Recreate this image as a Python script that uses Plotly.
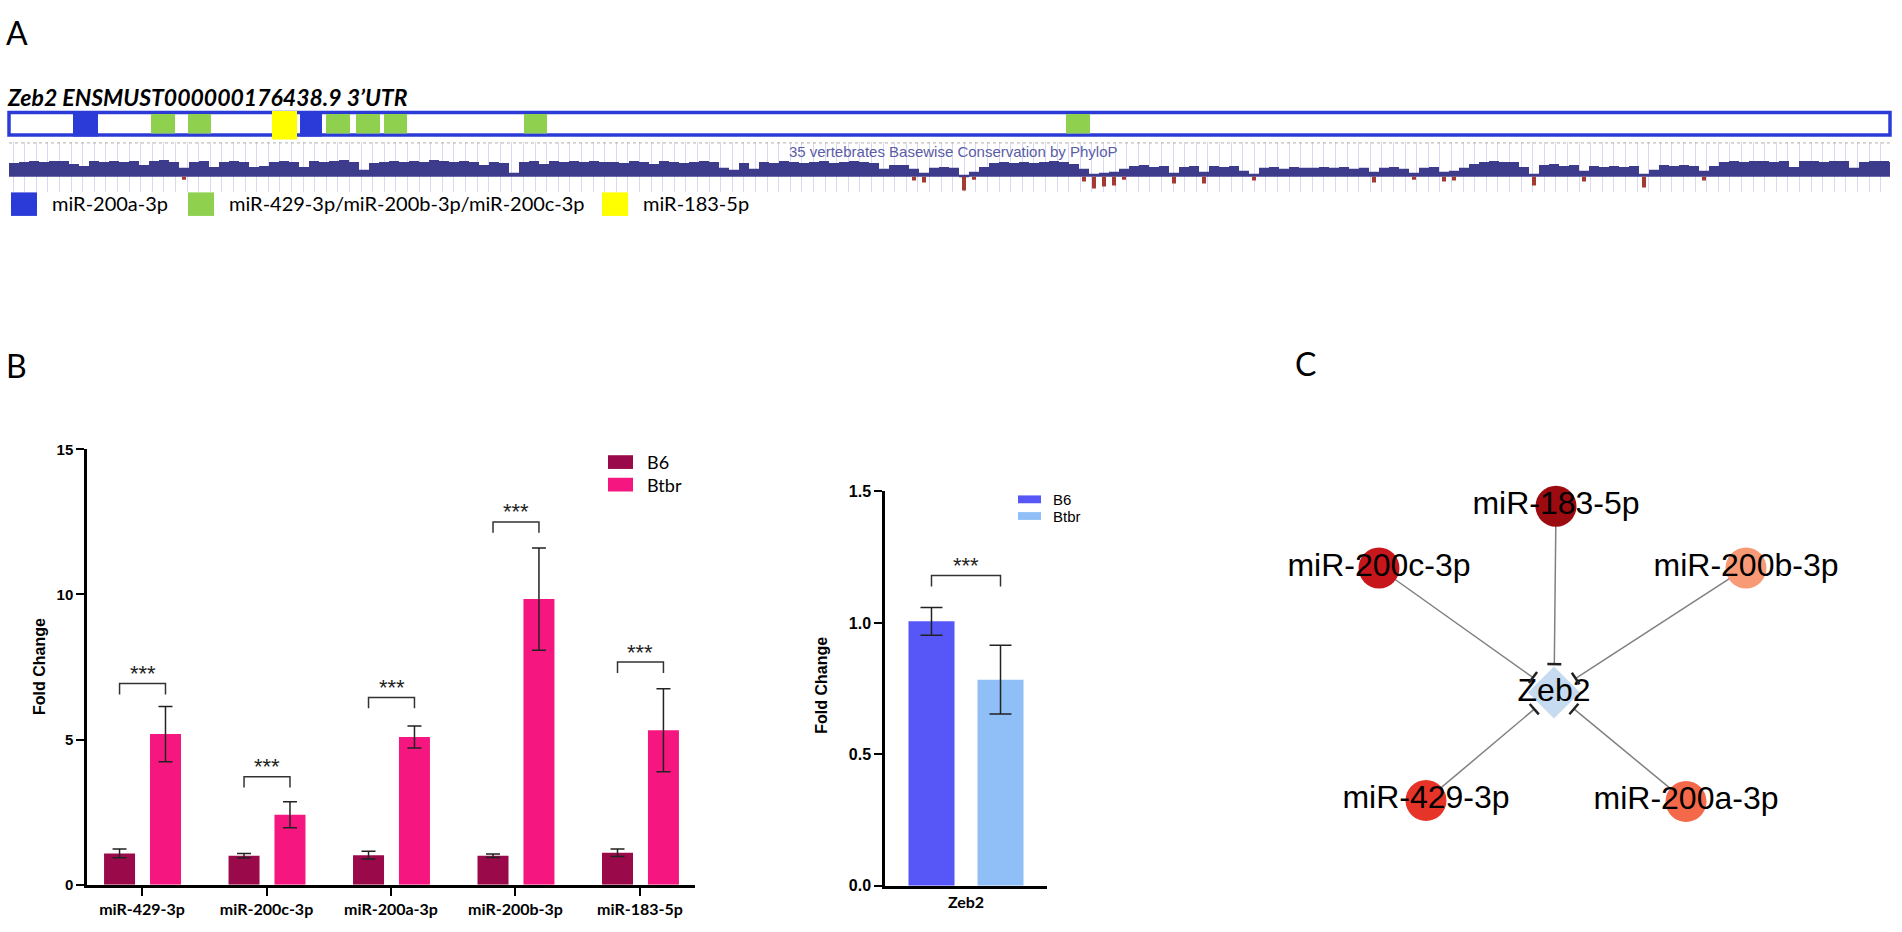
import math
import plotly.graph_objects as go

W, H = 1902, 932


def px(x):
    return x / W


def py(y):
    return 1 - y / H


CAL = "Lato, Carlito, Calibri, sans-serif"
ARIAL = "Liberation Sans, Arial, sans-serif"

# ---------------- panel A data ----------------
utr_len = 1881
site_labels = ["miR-200a-3p", "miR-429-3p/miR-200b-3p/miR-200c-3p", "miR-183-5p"]
site_colors = ["#2b3bd8", "#8fd14f", "#ffff00"]
mir200a_sites = [(64, 89), (291, 313)]
mir200bc_sites = [(142, 166), (179, 202), (317, 341), (347, 371), (375, 398), (515, 538), (1057, 1081)]
mir183_sites = [(263, 288)]

phylop_bin = 10
phylop_pos = [
    14, 15, 16, 15, 16, 16, 13, 11, 16, 15,
    16, 15, 16, 12, 16, 17, 15, 9, 15, 16,
    10, 15, 16, 15, 10, 11, 15, 16, 15, 10,
    16, 15, 16, 17, 15, 7, 14, 15, 16, 15,
    16, 15, 17, 16, 15, 16, 15, 12, 15, 14,
    4, 15, 16, 13, 16, 15, 16, 15, 16, 15,
    15, 14, 16, 15, 13, 16, 15, 14, 15, 16,
    15, 9, 7, 14, 8, 15, 14, 16, 15, 14,
    15, 16, 14, 15, 16, 15, 14, 8, 12, 12,
    8, 4, 9, 10, 9, 2, 5, 10, 14, 15,
    14, 15, 14, 15, 16, 15, 13, 8, 3, 4,
    5, 8, 11, 12, 10, 11, 4, 10, 11, 5,
    11, 10, 11, 6, 3, 9, 10, 8, 10, 9,
    9, 10, 9, 10, 8, 9, 5, 9, 10, 8,
    4, 9, 10, 5, 6, 9, 13, 15, 16, 15,
    15, 10, 3, 12, 13, 11, 12, 6, 11, 10,
    11, 10, 11, 3, 7, 12, 11, 12, 11, 6,
    11, 15, 16, 15, 16, 16, 15, 16, 10, 16,
    16, 15, 16, 16, 9, 15, 16, 16, 15,
]
phylop_neg_bins = [17, 90, 91, 95, 96, 107, 108, 109, 110, 111, 116, 119, 124, 136, 140, 143, 144, 152, 157, 163, 169]
phylop_neg_vals = [-3, -4, -6, -14, -3, -5, -12, -10, -9, -3, -7, -7, -4, -6, -3, -5, -4, -9, -5, -11, -4]

# ---------------- panel B data ----------------
mirs = ["miR-429-3p", "miR-200c-3p", "miR-200a-3p", "miR-200b-3p", "miR-183-5p"]
b6_mean = [1.08, 1.00, 1.02, 1.00, 1.10]
b6_err = [0.15, 0.08, 0.13, 0.06, 0.13]
btbr_mean = [5.19, 2.41, 5.09, 9.84, 5.32]
btbr_err = [0.95, 0.45, 0.38, 1.76, 1.43]
mir_bracket = [6.93, 3.72, 6.45, 12.5, 7.67]

zeb2_b6_mean = [1.006]
zeb2_b6_err = [0.053]
zeb2_btbr_mean = [0.784]
zeb2_btbr_err = [0.131]
zeb2_bracket = [1.18]

# ---------------- panel C data ----------------
net_names = ["miR-183-5p", "miR-200c-3p", "miR-200b-3p", "miR-429-3p", "miR-200a-3p"]
net_x = [2, -175, 192, -128, 132]
net_y = [190, 127, 127, -110, -111]
net_colors = ["#9b0b10", "#c8171c", "#f89a76", "#e63528", "#f4694a"]
hub_name = "Zeb2"
hub_xy = (0, 0)

fig = go.Figure()

# ---- 3'UTR track with binding sites
def add_sites(sites, color, bottom, top):
    fig.add_trace(go.Bar(
        x=[(s + e) / 2 for s, e in sites], y=[top - bottom] * len(sites),
        base=[bottom] * len(sites), width=[e - s for s, e in sites],
        marker=dict(color=color, line_width=0), xaxis="x", yaxis="y",
        hoverinfo="skip"))


add_sites(mir200bc_sites, site_colors[1], 0.065, 0.935)
add_sites(mir200a_sites, site_colors[0], -0.07, 1.07)
add_sites(mir183_sites, site_colors[2], -0.2, 1.065)

# ---- conservation track
fig.add_trace(go.Bar(
    x=[phylop_bin * (i + 0.5) for i in range(len(phylop_pos))], y=phylop_pos,
    width=phylop_bin, marker=dict(color="#3c3b8c", line_width=0),
    xaxis="x2", yaxis="y2", hoverinfo="skip"))
fig.add_trace(go.Bar(
    x=[phylop_bin * (b + 0.5) for b in phylop_neg_bins], y=phylop_neg_vals,
    width=4, marker=dict(color="#a33b32", line_width=0),
    xaxis="x2", yaxis="y2", hoverinfo="skip"))

# ---- panel B left: miRNA fold change
B6_OFF, BT_OFF, BW = -0.305, 0.064, 0.249
fig.add_trace(go.Bar(
    x=list(range(len(mirs))), y=b6_mean, width=BW, offset=B6_OFF,
    marker=dict(color="#9a0a4a", line_width=0),
    error_y=dict(type="data", array=b6_err, color="#222", thickness=1.5, width=7),
    xaxis="x3", yaxis="y3"))
fig.add_trace(go.Bar(
    x=list(range(len(mirs))), y=btbr_mean, width=BW, offset=BT_OFF,
    marker=dict(color="#f5177f", line_width=0),
    error_y=dict(type="data", array=btbr_err, color="#222", thickness=1.5, width=7),
    xaxis="x3", yaxis="y3"))

c1, c2 = B6_OFF + BW / 2, BT_OFF + BW / 2
leg = 11 / 29.6
bx, by = [], []
for i, h in enumerate(mir_bracket):
    bx += [i + c1, i + c1, i + c2, i + c2, None]
    by += [h - leg, h, h, h - leg, None]
fig.add_trace(go.Scatter(x=bx, y=by, mode="lines", line=dict(color="#333", width=1.5),
                         xaxis="x3", yaxis="y3", hoverinfo="skip"))

# ---- panel B right: Zeb2
Z6_OFF, ZT_OFF, ZW = -0.355, 0.071, 0.284
fig.add_trace(go.Bar(
    x=[0], y=zeb2_b6_mean, width=ZW, offset=Z6_OFF,
    marker=dict(color="#5757f8", line_width=0),
    error_y=dict(type="data", array=zeb2_b6_err, color="#222", thickness=1.5, width=11),
    xaxis="x4", yaxis="y4"))
fig.add_trace(go.Bar(
    x=[0], y=zeb2_btbr_mean, width=ZW, offset=ZT_OFF,
    marker=dict(color="#90bff7", line_width=0),
    error_y=dict(type="data", array=zeb2_btbr_err, color="#222", thickness=1.5, width=11),
    xaxis="x4", yaxis="y4"))
z1, z2 = Z6_OFF + ZW / 2, ZT_OFF + ZW / 2
zleg = 11 / 268
h = zeb2_bracket[0]
fig.add_trace(go.Scatter(x=[z1, z1, z2, z2], y=[h - zleg, h, h, h - zleg], mode="lines",
                         line=dict(color="#333", width=1.5), xaxis="x4", yaxis="y4",
                         hoverinfo="skip"))

# ---- panel C: network
ex, ey, tx, ty = [], [], [], []
for nx, ny in zip(net_x, net_y):
    dx, dy = hub_xy[0] - nx, hub_xy[1] - ny
    d = math.hypot(dx, dy)
    ux, uy = dx / d, dy / d
    r_end = 29 if abs(ux) < 0.2 else 26
    endx, endy = hub_xy[0] - ux * r_end, hub_xy[1] - uy * r_end
    ex += [nx, endx, None]
    ey += [ny, endy, None]
    tx += [endx - uy * 7, endx + uy * 7, None]
    ty += [endy + ux * 7, endy - ux * 7, None]
fig.add_trace(go.Scatter(x=ex, y=ey, mode="lines", line=dict(color="#808080", width=1.5),
                         xaxis="x5", yaxis="y5", hoverinfo="skip"))
fig.add_trace(go.Scatter(x=[hub_xy[0]], y=[hub_xy[1]], mode="markers+text", text=[hub_name],
                         textposition="middle center",
                         marker=dict(symbol="diamond", size=40, color="#c6dbef"),
                         textfont=dict(family=ARIAL, size=32, color="black"),
                         xaxis="x5", yaxis="y5", hoverinfo="skip"))
fig.add_trace(go.Scatter(x=tx, y=ty, mode="lines", line=dict(color="#222", width=2.5),
                         xaxis="x5", yaxis="y5", hoverinfo="skip"))
fig.add_trace(go.Scatter(x=net_x, y=net_y, mode="markers+text", text=net_names,
                         textposition="middle center",
                         marker=dict(size=41, color=net_colors),
                         textfont=dict(family=ARIAL, size=32, color="black"),
                         xaxis="x5", yaxis="y5", hoverinfo="skip"))

# ---------------- annotations ----------------
ann = []


def text(x, y, s, size, family=CAL, xanchor="left", weight="normal", style="normal",
         color="black", angle=0):
    ann.append(dict(x=px(x), y=py(y), xref="paper", yref="paper", text=s, showarrow=False,
                    xanchor=xanchor, yanchor="middle", textangle=angle,
                    font=dict(family=family, size=size, color=color, weight=weight, style=style)))


text(4, 24, "A", 32)
text(4, 364, "B", 32)
text(1293, 361, "C", 32)
text(5, 90, "Zeb2 ENSMUST000000176438.9 3\u2019UTR", 23, weight="bold", style="italic")
ann.append(dict(x=944, y=26, xref="x2", yref="y2", text="35 vertebrates Basewise Conservation by PhyloP",
                showarrow=False, font=dict(family="Liberation Sans Narrow, Liberation Sans, Arial",
                                           size=15, color="#5a5ca6")))

# legend of panel A
shapes = []
for x0, col, lab in zip([11, 188, 602], site_colors, site_labels):
    shapes.append(dict(type="rect", xref="paper", yref="paper", x0=px(x0), x1=px(x0 + 26),
                       y0=py(211), y1=py(187), fillcolor=col, line_width=0))
    text(x0 + 39, 198, lab, 20)

# legends of panel B
for yk, col, lab in zip([462, 485], ["#9a0a4a", "#f5177f"], ["B6", "Btbr"]):
    shapes.append(dict(type="rect", xref="paper", yref="paper", x0=px(608), x1=px(633),
                       y0=py(yk + 7), y1=py(yk - 7), fillcolor=col, line_width=0))
    text(645, yk, lab, 18)
for yk, col, lab in zip([500, 517], ["#5757f8", "#90bff7"], ["B6", "Btbr"]):
    shapes.append(dict(type="rect", xref="paper", yref="paper", x0=px(1018), x1=px(1041),
                       y0=py(yk + 4), y1=py(yk - 4), fillcolor=col, line_width=0))
    text(1051, yk, lab, 15, family=ARIAL)

text(39, 671, "Fold Change", 16, family=ARIAL, xanchor="center", weight="bold", angle=-90)
text(822, 690, "Fold Change", 16, family=ARIAL, xanchor="center", weight="bold", angle=-90)

for i, h in enumerate(mir_bracket):
    ann.append(dict(x=i + (c1 + c2) / 2, y=h, xref="x3", yref="y3", text="***", showarrow=False,
                    yanchor="middle", yshift=10, font=dict(family=ARIAL, size=22, color="#222")))
ann.append(dict(x=(z1 + z2) / 2, y=zeb2_bracket[0], xref="x4", yref="y4", text="***",
                showarrow=False, yanchor="middle", yshift=10,
                font=dict(family=ARIAL, size=22, color="#222")))

# track outline and top dotted line
shapes.append(dict(type="rect", xref="x", yref="y", x0=0, x1=utr_len, y0=0, y1=1,
                   line=dict(color="#2b3bd8", width=3.5), layer="below"))
shapes.append(dict(type="line", xref="x2", yref="y2", x0=0, x1=utr_len, y0=34.5, y1=34.5,
                   line=dict(color="#a0a0a0", width=1, dash="dot")))

ax_line = dict(showline=True, linecolor="black", linewidth=2.5, showgrid=False, zeroline=False)

fig.update_layout(
    width=W, height=H, margin=dict(l=0, r=0, t=0, b=0), autosize=False,
    paper_bgcolor="white", plot_bgcolor="rgba(0,0,0,0)",
    showlegend=False, barmode="overlay",
    shapes=shapes, annotations=ann,
    # track box: 1 unit = 1 px along x, 23 px per unit along y, with room for the outline
    xaxis=dict(domain=[px(5), px(1894)], range=[-4, utr_len + 4], visible=False, anchor="y"),
    yaxis=dict(domain=[py(137), py(97)], range=[-0.37, 1.37], visible=False, anchor="x"),
    xaxis2=dict(domain=[px(9), px(1890)], range=[0, utr_len], showgrid=True, gridcolor="#d8d8f2",
                gridwidth=1, dtick=11.6, tick0=4, showticklabels=False, ticks="", zeroline=False,
                showline=False, anchor="y2"),
    yaxis2=dict(domain=[py(187), py(136)], range=[-16, 35], visible=False, anchor="x2"),
    xaxis3=dict(ax_line, domain=[px(87), px(695)], range=[-0.442, 4.442], ticks="outside",
                ticklen=8, tickwidth=2, tickcolor="black", tickvals=list(range(len(mirs))),
                ticktext=mirs, tickfont=dict(family=CAL, size=16, color="black", weight="bold"),
                anchor="y3"),
    yaxis3=dict(ax_line, domain=[py(893), py(449)], range=[0, 15], ticks="outside", ticklen=8,
                tickwidth=2, tickcolor="black", tickvals=[0, 5, 10, 15],
                tickfont=dict(family=ARIAL, size=15, color="black", weight="bold"), anchor="x3"),
    xaxis4=dict(ax_line, domain=[px(885), px(1047)], range=[-0.5, 0.5], ticks="",
                tickvals=[0], ticktext=["Zeb2"],
                tickfont=dict(family=CAL, size=16, color="black", weight="bold"), anchor="y4"),
    yaxis4=dict(ax_line, domain=[py(894), py(492)], range=[0, 1.5], ticks="outside", ticklen=8,
                tickwidth=2, tickcolor="black", tickvals=[0, 0.5, 1.0, 1.5], tickformat=".1f",
                tickfont=dict(family=ARIAL, size=16, color="black", weight="bold"), anchor="x4"),
    xaxis5=dict(domain=[px(1240), 1], range=[-314, 348], visible=False, anchor="y5"),
    yaxis5=dict(domain=[py(880), py(420)], range=[-183, 277], visible=False, anchor="x5"),
)

fig.write_html("out.html", config={"displayModeBar": False},
               post_script="document.body.style.margin='0';document.body.style.overflow='hidden';")
